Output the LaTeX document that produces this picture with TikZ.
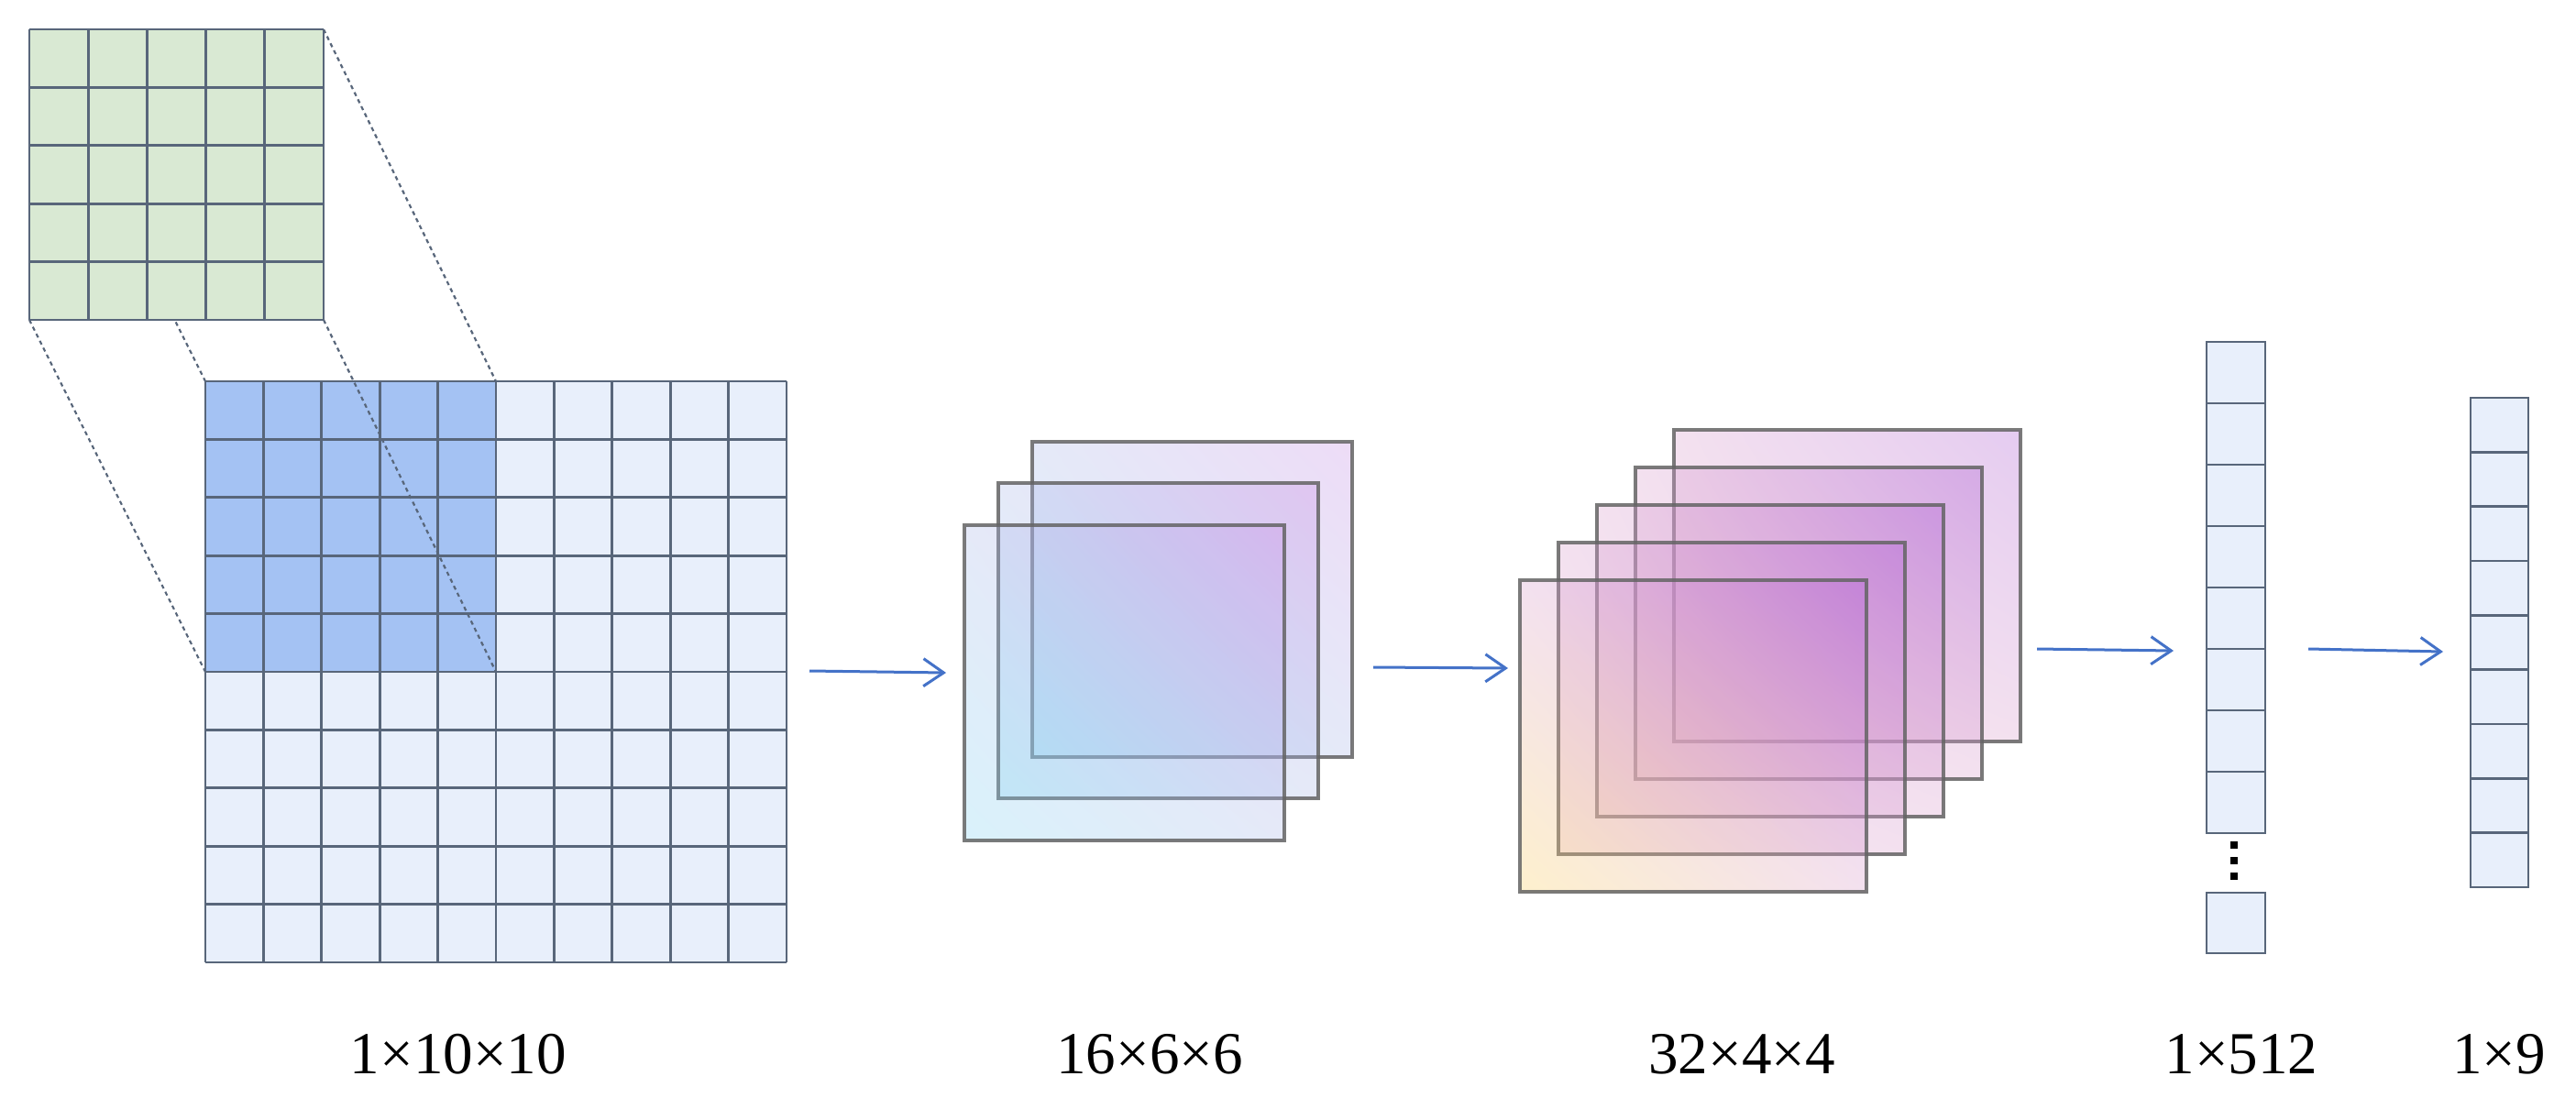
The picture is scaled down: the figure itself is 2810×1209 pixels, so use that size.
\documentclass[tikz,border=0pt]{standalone}
\usepackage{fontspec}
\setmainfont{Liberation Serif}
\usetikzlibrary{arrows.meta,shadings}
\definecolor{gridline}{RGB}{88,102,122}
\definecolor{greenfill}{RGB}{217,233,211}
\definecolor{bluefill}{RGB}{164,194,243}
\definecolor{lightfill}{RGB}{232,239,251}
\definecolor{arrowblue}{RGB}{68,114,200}
\definecolor{framegray}{RGB}{100,100,100}
\definecolor{cyanA}{RGB}{130,212,242}
\definecolor{midA}{RGB}{170,185,235}
\definecolor{purpA}{RGB}{198,140,228}
\definecolor{yellB}{RGB}{252,210,100}
\definecolor{peachB}{RGB}{236,190,200}
\definecolor{pinkB}{RGB}{220,162,208}
\definecolor{purpB}{RGB}{175,95,212}
\begin{document}
\begin{tikzpicture}[x=0.01cm,y=-0.01cm,
  gridln/.style={draw=gridline,line width=0.028cm},
  dashln/.style={draw=gridline,line width=0.022cm,dash pattern=on 0.045cm off 0.04cm},
  arr/.style={draw=arrowblue,line width=0.03cm,-{Straight Barb[length=0.22cm,width=0.3cm]}},
  mapA/.style={lower left=cyanA,upper right=purpA,upper left=midA,lower right=midA,fill opacity=0.3,draw=framegray,draw opacity=0.85,line width=0.033cm},
  mapB/.style={lower left=#1,upper right=purpB,upper left=pinkB,lower right=pinkB,fill opacity=0.32,draw=framegray,draw opacity=0.85,line width=0.033cm},
  cellbox/.style={fill=lightfill,draw=gridline,line width=0.028cm},
  lbl/.style={font=\fontsize{18.5}{22}\selectfont,inner sep=0pt,anchor=center}
]
\useasboundingbox (0,0) rectangle (2810,1209);
\fill[white] (0,0) rectangle (2810,1209);

% input grid 10x10
\fill[lightfill] (224,416) rectangle (858,1050);
\fill[bluefill] (224,416) rectangle (541,733);
\foreach \i in {0,...,10}{
  \draw[gridln] ({224+63.4*\i},416) -- ({224+63.4*\i},1050);
  \draw[gridln] (224,{416+63.4*\i}) -- (858,{416+63.4*\i});
}

% kernel projection lines
\draw[dashln] (32,32) -- (224,416);
\draw[dashln] (353,32) -- (541,416);
\draw[dashln] (32,349) -- (224,733);
\draw[dashln] (353,349) -- (541,733);

% kernel 5x5
\fill[greenfill] (32,32) rectangle (353,349);
\foreach \i in {0,...,5}{
  \draw[gridln] ({32+64.2*\i},32) -- ({32+64.2*\i},349);
  \draw[gridln] (32,{32+63.4*\i}) -- (353,{32+63.4*\i});
}

% feature maps 16x6x6
\shadedraw[mapA] (1126,482) rectangle ++(349,344);
\shadedraw[mapA] (1089,527) rectangle ++(349,344);
\shadedraw[mapA] (1052,573) rectangle ++(349,344);

% feature maps 32x4x4
\foreach \k in {4,3,2,1}{
  \shadedraw[mapB=peachB] ({1658+42*\k},{633-41*\k}) rectangle ++(378,340);
}
\shadedraw[mapB=yellB] (1658,633) rectangle ++(378,340);

% vector 1x512
\foreach \i in {0,...,7}{
  \draw[cellbox] (2407,{373+67*\i}) rectangle (2471,{373+67*(\i+1)});
}
\foreach \d in {918,935,952}{
  \fill[black] (2433,\d) rectangle (2441,{\d+8});
}
\draw[cellbox] (2407,974) rectangle (2471,1040);

% vector 1x9
\foreach \i in {0,...,8}{
  \draw[cellbox] (2695,{434+59.33*\i}) rectangle (2758,{434+59.33*(\i+1)});
}

% arrows
\coordinate (a1s) at (883,732);  \coordinate (a1e) at (1032,734);
\coordinate (a2s) at (1498,728); \coordinate (a2e) at (1645,729);
\coordinate (a3s) at (2222,708); \coordinate (a3e) at (2371,710);
\coordinate (a4s) at (2518,708); \coordinate (a4e) at (2665,711);
\draw[arr] (a1s) -- (a1e);
\draw[arr] (a2s) -- (a2e);
\draw[arr] (a3s) -- (a3e);
\draw[arr] (a4s) -- (a4e);

% labels
\node[lbl] (l1) at (500,1150) {1×10×10};
\node[lbl] (l2) at (1254,1150) {16×6×6};
\node[lbl] (l3) at (1900,1150) {32×4×4};
\node[lbl] (l4) at (2445,1150) {1×512};
\node[lbl] (l5) at (2726,1150) {1×9};
\end{tikzpicture}
\end{document}
